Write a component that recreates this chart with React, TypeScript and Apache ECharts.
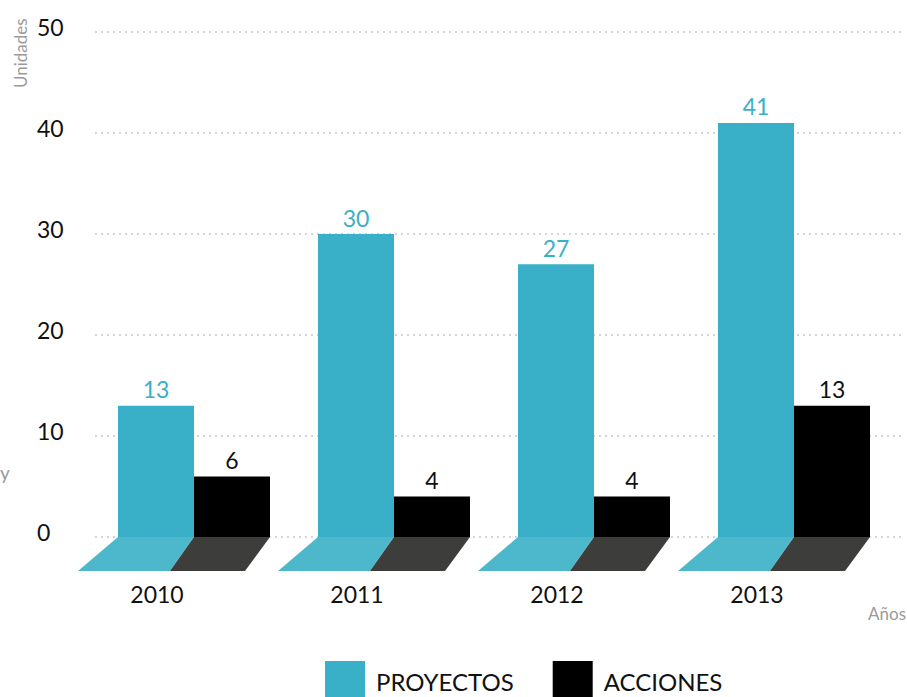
import React, { useEffect, useRef } from "react";
import * as echarts from "echarts";

const YEARS = ["2010", "2011", "2012", "2013"];
const PROYECTOS = [13, 30, 27, 41];
const ACCIONES = [6, 4, 4, 13];
const Y_MIN = 0;
const Y_MAX = 50;
const Y_STEP = 10;

const CYAN = "#3ab0c8";
const CYAN_FLOOR = "#4db8cc";
const DARK_FLOOR = "#3d3d3b";
const TEXT = "#111111";
const GRAY = "#9a9a9a";
const FONT = "Lato";
const BAR_W = 76;

export default function App() {
  const ref = useRef<HTMLDivElement>(null);
  useEffect(() => {
    if (!ref.current) return;
    const chart = echarts.init(ref.current, null, { renderer: "svg" });
    const option: any = {
      animation: false,
      textStyle: { fontFamily: FONT },
      grid: [
        { left: 94, right: 13, top: 32, bottom: 160 },
        { left: 95, right: 2, top: 32, bottom: 160 },
      ],
      legend: {
        data: ["PROYECTOS", "ACCIONES"],
        left: 325,
        top: 661,
        padding: 0,
        icon: "rect",
        itemWidth: 40,
        itemHeight: 40,
        itemGap: 39,
        textStyle: { fontSize: 24, color: TEXT, fontFamily: FONT, padding: [0, 0, 0, 6] },
      },
      xAxis: [
        {
          type: "category",
          gridIndex: 0,
          data: YEARS,
          axisLine: { show: false },
          axisTick: { show: false },
          axisLabel: {
            fontSize: 23,
            lineHeight: 23,
            color: TEXT,
            fontFamily: FONT,
            margin: 45,
            padding: [0, 74, 0, 0],
          },
        },
        { type: "value", gridIndex: 1, show: false, min: 0, max: 1 },
      ],
      yAxis: [
        { type: "value", gridIndex: 0, min: Y_MIN, max: Y_MAX, interval: Y_STEP, show: false },
        {
          type: "value",
          gridIndex: 1,
          min: Y_MIN,
          max: Y_MAX,
          interval: Y_STEP,
          axisLine: { show: false },
          axisTick: { show: false },
          axisLabel: {
            fontSize: 23,
            color: TEXT,
            fontFamily: FONT,
            align: "left",
            verticalAlign: "bottom",
            lineHeight: 10,
            margin: 58,
          },
          splitLine: {
            show: true,
            lineStyle: { color: "#d4d4d4", width: 2, type: [2, 4] },
          },
        },
      ],
      graphic: [
        {
          type: "text",
          x: 12,
          y: 88,
          rotation: Math.PI / 2,
          style: { text: "Unidades", fill: GRAY, fontSize: 17, fontFamily: FONT, textVerticalAlign: "top" },
        },
        {
          type: "text",
          right: 1,
          top: 605,
          style: { text: "Años", fill: GRAY, fontSize: 17, fontFamily: FONT },
        },
        {
          type: "text",
          left: 0,
          top: 463,
          style: { text: "y", fill: GRAY, fontSize: 19, fontFamily: FONT },
        },
      ],
      series: [
        {
          name: "floor",
          type: "custom",
          xAxisIndex: 0,
          yAxisIndex: 0,
          silent: true,
          z: 1,
          encode: { x: 0, y: 1 },
          data: YEARS.map((_, i) => [i, 0]),
          renderItem: (params: any, api: any) => {
            const idx = api.value(0);
            const p = api.coord([idx, 0]);
            const cx = p[0];
            const y0 = p[1];
            const d = 34;
            return {
              type: "group",
              children: [
                {
                  type: "polygon",
                  shape: {
                    points: [
                      [cx - BAR_W, y0],
                      [cx, y0],
                      [cx - 24, y0 + d],
                      [cx - BAR_W - 40, y0 + d],
                    ],
                  },
                  style: { fill: CYAN_FLOOR },
                },
                {
                  type: "polygon",
                  shape: {
                    points: [
                      [cx, y0],
                      [cx + BAR_W, y0],
                      [cx + BAR_W - 25, y0 + d],
                      [cx - 24, y0 + d],
                    ],
                  },
                  style: { fill: DARK_FLOOR },
                },
              ],
            };
          },
        },
        {
          name: "PROYECTOS",
          type: "bar",
          xAxisIndex: 0,
          yAxisIndex: 0,
          data: PROYECTOS,
          barWidth: BAR_W,
          barGap: "0%",
          itemStyle: { color: CYAN },
          label: {
            show: true,
            position: "top",
            fontSize: 23,
            color: CYAN,
            fontFamily: FONT,
          },
        },
        {
          name: "ACCIONES",
          type: "bar",
          xAxisIndex: 0,
          yAxisIndex: 0,
          data: ACCIONES,
          barWidth: BAR_W,
          barGap: "0%",
          itemStyle: { color: "#000000" },
          label: {
            show: true,
            position: "top",
            fontSize: 23,
            color: TEXT,
            fontFamily: FONT,
          },
        },
      ],
    };
    chart.setOption(option);
    return () => chart.dispose();
  }, []);
  return (
    <div
      ref={ref}
      style={{ position: "fixed", left: 0, top: 0, width: 907, height: 697, background: "#fff" }}
    />
  );
}
